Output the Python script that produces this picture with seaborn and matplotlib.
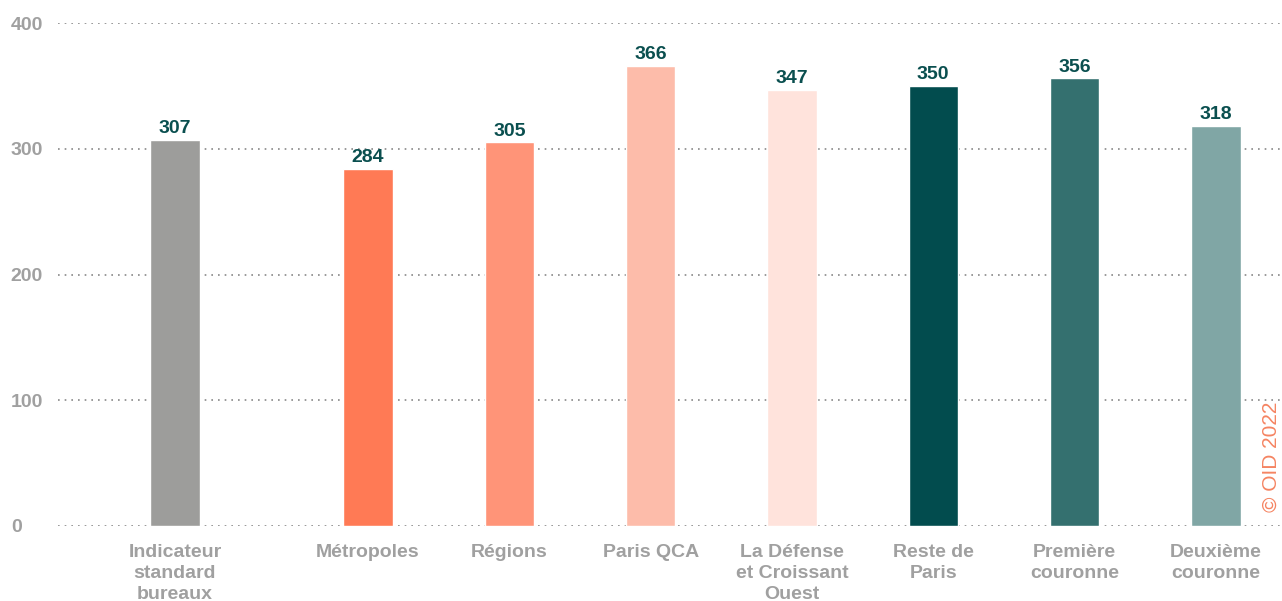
import numpy as np
import pandas as pd
import matplotlib
matplotlib.use('Agg')
import matplotlib.pyplot as plt
import seaborn as sns

# Données
categories = ['Indicateur\nstandard\nbureaux', 'Métropoles', 'Régions', 'Paris QCA',
              'La Défense\net Croissant\nOuest', 'Reste de\nParis', 'Première\ncouronne',
              'Deuxième\ncouronne']
valeurs = [307, 284, 305, 366, 347, 350, 356, 318]
couleurs = ['#9D9D9B', '#FF7A55', '#FF9478', '#FDBCAA', '#FFE3DC', '#024C4E', '#34706F', '#80A6A5']
yticks = [0, 100, 200, 300, 400]

sns.set_style('white')
plt.rcParams['font.family'] = ['Liberation Sans', 'DejaVu Sans']

# positions : un écart supplémentaire après la première barre
pos = np.arange(len(categories)) + np.where(np.arange(len(categories)) > 0, 0.366, 0.0)
df = pd.DataFrame({'pos': pos, 'cat': categories, 'val': valeurs})

fig = plt.figure(figsize=(12.82, 6.01), dpi=100)
ax = fig.add_axes([58 / 1282, 75 / 601, 1 - 58 / 1282, (524 - 21) / 601])

sns.barplot(data=df, x='pos', y='val', hue='cat', palette=dict(zip(categories, couleurs)),
            native_scale=True, width=0.35, legend=False, ax=ax, zorder=3, saturation=1)

for c in ax.containers:
    ax.bar_label(c, fmt='%.0f', padding=2, fontsize=14, fontweight='bold', color='#0A4F4F')

ax.set_xlim(-0.828, 7.834)
ax.set_ylim(0, 400)
ax.set_yticks(yticks)
ax.set_yticklabels([str(t) for t in yticks], ha='left')
ax.set_xticks(pos)
ax.set_xticklabels(categories, linespacing=1.3)
ax.tick_params(axis='y', length=0, pad=34, labelsize=14, labelcolor='#A0A0A0')
ax.tick_params(axis='x', length=0, pad=13, labelsize=14, labelcolor='#A0A0A0')
for lbl in ax.get_xticklabels() + ax.get_yticklabels():
    lbl.set_fontweight('bold')

ax.grid(axis='y', linestyle=(0, (1, 3)), color='#888888', linewidth=1.2, zorder=0)
ax.grid(axis='x', visible=False)
ax.set_axisbelow(True)
sns.despine(ax=ax, left=True, bottom=True)
ax.set_xlabel('')
ax.set_ylabel('')

fig.text(1281 / 1282, (601 - 512) / 601, '© OID 2022', rotation=90, ha='right', va='bottom',
         fontsize=15, color='#F58462')

fig.savefig('out.png', dpi=100)
